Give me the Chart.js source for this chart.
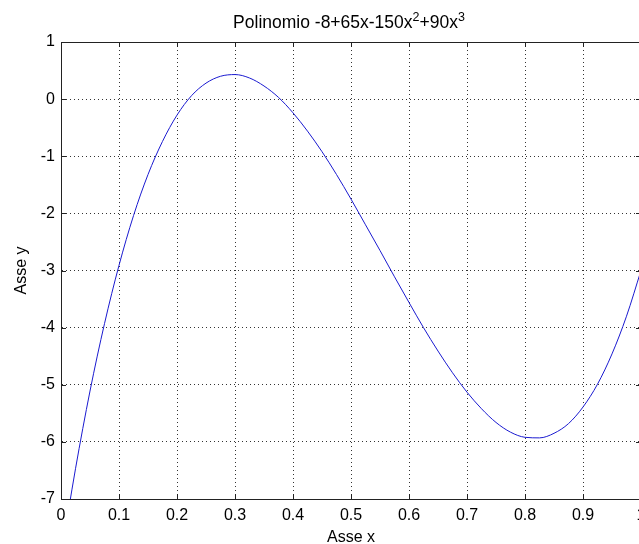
<!DOCTYPE html>
<html>
<head>
<meta charset="utf-8">
<script src="https://cdn.jsdelivr.net/npm/chart.js@4"></script>
<style>
  html, body { margin: 0; padding: 0; background: #fff; overflow: hidden; }
</style>
</head>
<body>
<canvas id="polyChart" width="645" height="544"></canvas>
<script>
// curve, x step 0.025
const xValues = [0, 0.025, 0.05, 0.075, 0.1, 0.125, 0.15, 0.175, 0.2, 0.225, 0.25, 0.275, 0.3, 0.325, 0.35, 0.375, 0.4,
    0.425, 0.45, 0.475, 0.5, 0.525, 0.55, 0.575, 0.6, 0.625, 0.65, 0.675, 0.7, 0.725, 0.75, 0.775, 0.8,
    0.825, 0.85, 0.875, 0.9, 0.925, 0.95, 0.975, 1];
const yValues = [-8, -6.47, -5.11, -3.93, -2.91, -2.04, -1.32, -0.74, -0.28, 0.06, 0.28, 0.40, 0.43, 0.37, 0.23, 0.03, -0.24,
    -0.56, -0.92, -1.32, -1.75, -2.20, -2.65, -3.11, -3.56, -4.00, -4.41, -4.79, -5.13, -5.42, -5.66, -5.83, -5.92,
    -5.93, -5.85, -5.68, -5.39, -4.99, -4.46, -3.80, -3];
const xTicks = [0, 0.1, 0.2, 0.3, 0.4, 0.5, 0.6, 0.7, 0.8, 0.9, 1];
const yTicks = [-7, -6, -5, -4, -3, -2, -1, 0, 1];
// title pieces: [text, superscript?]
const titleParts = [['Polinomio -8+65x-150x', false], ['2', true], ['+90x', false], ['3', true]];

const points = xValues.map((x, i) => ({ x: x, y: yValues[i] }));
const FONT = 'Liberation Sans, Arial, sans-serif';

// title with raised exponents, box round the plot and inward tick marks
const boxPlugin = {
    id: 'boxPlugin',
    afterDraw(chart) {
        const ctx = chart.ctx;
        const a = chart.chartArea;
        const xs = chart.scales.x, ys = chart.scales.y;
        ctx.save();
        ctx.strokeStyle = '#222';
        ctx.lineWidth = 1;
        ctx.beginPath();
        xTicks.forEach(v => {
            const px = Math.round(xs.getPixelForValue(v)) + 0.5;
            ctx.moveTo(px, a.bottom); ctx.lineTo(px, a.bottom - 5);
            ctx.moveTo(px, a.top); ctx.lineTo(px, a.top + 5);
        });
        yTicks.forEach(v => {
            const py = Math.round(ys.getPixelForValue(v)) + 0.5;
            ctx.moveTo(a.left, py); ctx.lineTo(a.left + 5, py);
            ctx.moveTo(a.right, py); ctx.lineTo(a.right - 5, py);
        });
        ctx.stroke();
        ctx.strokeRect(Math.round(a.left) + 0.5, Math.round(a.top) + 0.5,
            Math.round(a.right - a.left), Math.round(a.bottom - a.top));

        // title
        const big = '17.5px ' + FONT, small = '12.5px ' + FONT;
        let total = 0;
        titleParts.forEach(p => { ctx.font = p[1] ? small : big; total += ctx.measureText(p[0]).width; });
        let tx = (a.left + a.right) / 2 - 2 - total / 2;
        ctx.fillStyle = '#000';
        ctx.textBaseline = 'alphabetic';
        ctx.textAlign = 'left';
        titleParts.forEach(p => {
            ctx.font = p[1] ? small : big;
            ctx.fillText(p[0], tx, p[1] ? 21 : 28);
            tx += ctx.measureText(p[0]).width;
        });
        ctx.restore();
    }
};

const ctx = document.getElementById('polyChart').getContext('2d');
const polyChart = new Chart(ctx, {
    type: 'line',
    data: {
        datasets: [{
            data: points,
            borderColor: '#1a1ad0',
            borderWidth: 1,
            pointRadius: 0,
            cubicInterpolationMode: 'monotone',
            fill: false
        }]
    },
    options: {
        responsive: false,
        animation: false,
        layout: { padding: { left: 0, right: 4, top: 42, bottom: 0 } },
        plugins: {
            legend: { display: false },
            tooltip: { enabled: false },
            title: { display: false }
        },
        scales: {
            x: {
                type: 'linear',
                min: 0,
                max: 1,
                afterBuildTicks: (scale) => { scale.ticks = xTicks.map(v => ({ value: v })); },
                afterFit: (scale) => { scale.height = 45; scale.paddingRight = 0; scale.paddingLeft = 0; },
                ticks: {
                    color: '#000',
                    padding: 7,
                    maxRotation: 0,
                    font: { family: FONT, size: 16 },
                    callback: (v) => String(Math.round(v * 10) / 10)
                },
                grid: {
                    color: 'rgba(0,0,0,0.8)',
                    drawTicks: false
                },
                border: { display: true, color: '#222', dash: [1, 3] },
                title: {
                    display: true,
                    text: 'Asse x',
                    color: '#000',
                    font: { family: FONT, size: 16 },
                    padding: { top: 0, bottom: -3 }
                }
            },
            y: {
                type: 'linear',
                min: -7,
                max: 1,
                afterBuildTicks: (scale) => { scale.ticks = yTicks.map(v => ({ value: v })); },
                afterFit: (scale) => { scale.width = 61; scale.paddingTop = 0; scale.paddingBottom = 0; },
                ticks: {
                    color: '#000',
                    padding: 6,
                    font: { family: FONT, size: 16 }
                },
                grid: {
                    color: 'rgba(0,0,0,0.8)',
                    drawTicks: false
                },
                border: { display: true, color: '#222', dash: [1, 3] },
                title: {
                    display: true,
                    text: 'Asse y',
                    color: '#000',
                    font: { family: FONT, size: 16 },
                    padding: { top: 12, bottom: 0 }
                }
            }
        }
    },
    plugins: [boxPlugin]
});
</script>
</body>
</html>
